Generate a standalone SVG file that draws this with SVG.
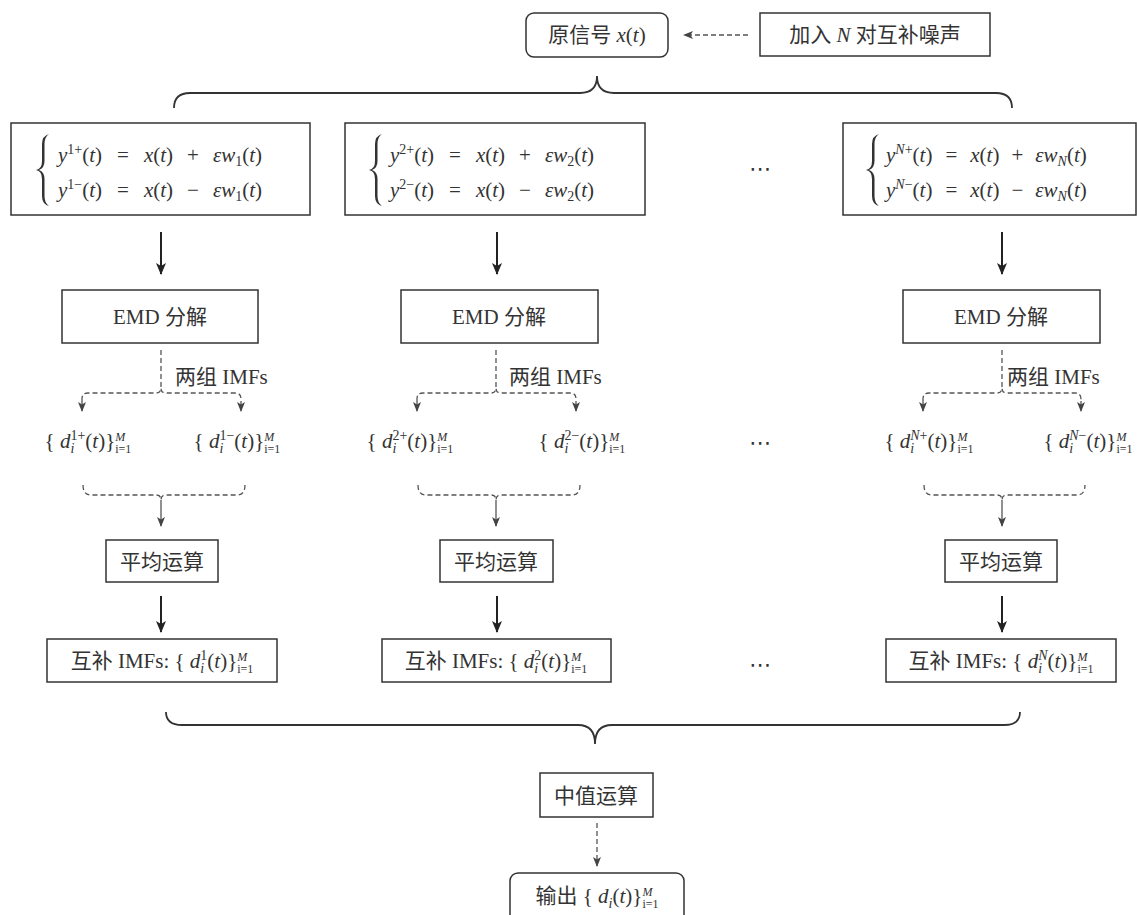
<svg xmlns="http://www.w3.org/2000/svg" width="1137" height="915" viewBox="0 0 1137 915" font-family="'Liberation Serif','Times New Roman','DejaVu Serif','Noto Sans CJK SC',serif">
<style>
text{font-family:'Liberation Serif','Times New Roman','DejaVu Serif','Noto Sans CJK SC',serif;fill:#333;font-size:21px}
.c{text-anchor:middle}
.i{font-style:italic}
.s{font-size:14px}
.ss{font-size:12px}
.box{fill:#fff;stroke:#333;stroke-width:1.5}
.sol{fill:none;stroke:#222;stroke-width:2}
.dash{fill:none;stroke:#555;stroke-width:1.3;stroke-dasharray:5 3}
.thin{fill:none;stroke:#555;stroke-width:1.3}
.brace{fill:none;stroke:#333;stroke-width:1.8}
.eb{fill:#333;stroke:none}
.dots{font-family:'DejaVu Sans',sans-serif;font-size:22px}
</style>
<defs>
<marker id="big" markerUnits="userSpaceOnUse" markerWidth="12" markerHeight="10" refX="11" refY="5" orient="auto"><path d="M0,0 L12,5 L0,10 L3,5 z" fill="#222"/></marker>
<marker id="sm" markerUnits="userSpaceOnUse" markerWidth="10" markerHeight="8" refX="9" refY="4" orient="auto"><path d="M0,0 L10,4 L0,8 L2.5,4 z" fill="#444"/></marker>
<path id="lb" d="M9,0 Q2,2 2,10 V27 Q2,35 -4,36 Q2,37 2,45 V62 Q2,70 9,72 Q4.5,69 4.5,62 V45 Q4.5,38 -1,36 Q4.5,34 4.5,27 V10 Q4.5,3 9,0 z"/>
</defs>

<g id="connectors">
<path class="dash" d="M748,35 H684" marker-end="url(#sm)"/>
<path class="brace" d="M174,108 Q174,93 190,93 H580 Q597,93 597,76 Q597,93 614,93 H996 Q1012,93 1012,108"/>
<path class="sol" d="M161,232 V274" marker-end="url(#big)"/>
<path class="sol" d="M497,232 V274" marker-end="url(#big)"/>
<path class="sol" d="M1002,232 V274" marker-end="url(#big)"/>
<path class="dash" d="M161,350 V389"/>
<path class="dash" d="M82,401 V399 Q82,393 88,393 H156 Q161,393 161,388 Q161,393 166,393 H235 Q241,393 241,399 V401"/>
<path class="thin" d="M82,401 V411" marker-end="url(#sm)"/>
<path class="thin" d="M241,401 V411" marker-end="url(#sm)"/>
<path class="dash" d="M496,350 V389"/>
<path class="dash" d="M417,401 V399 Q417,393 423,393 H491 Q496,393 496,388 Q496,393 501,393 H570 Q576,393 576,399 V401"/>
<path class="thin" d="M417,401 V411" marker-end="url(#sm)"/>
<path class="thin" d="M576,401 V411" marker-end="url(#sm)"/>
<path class="dash" d="M1002,350 V389"/>
<path class="dash" d="M923,401 V399 Q923,393 929,393 H997 Q1002,393 1002,388 Q1002,393 1007,393 H1075 Q1081,393 1081,399 V401"/>
<path class="thin" d="M923,401 V411" marker-end="url(#sm)"/>
<path class="thin" d="M1081,401 V411" marker-end="url(#sm)"/>
<path class="dash" d="M83,485 Q83,495 91,495 H156 Q161,495 161,500 Q161,495 166,495 H237 Q245,495 245,485"/>
<path class="thin" d="M161,500 V526" marker-end="url(#sm)"/>
<path class="dash" d="M418,485 Q418,495 426,495 H491 Q496,495 496,500 Q496,495 501,495 H572 Q580,495 580,485"/>
<path class="thin" d="M496,500 V526" marker-end="url(#sm)"/>
<path class="dash" d="M924,485 Q924,495 932,495 H997 Q1002,495 1002,500 Q1002,495 1007,495 H1077 Q1085,495 1085,485"/>
<path class="thin" d="M1002,500 V526" marker-end="url(#sm)"/>
<path class="sol" d="M161,596 V632" marker-end="url(#big)"/>
<path class="sol" d="M497,596 V632" marker-end="url(#big)"/>
<path class="sol" d="M1002,596 V632" marker-end="url(#big)"/>
<path class="brace" d="M166,712 Q166,725 182,725 H578 Q595,725 595,744 Q595,725 612,725 H1004 Q1020,725 1020,712"/>
<path class="dash" d="M597,823 V866" marker-end="url(#sm)"/>
</g>

<g id="n_orig">
<rect class="box" x="526" y="13" width="142" height="44" rx="8"/>
<text x="597" y="42" class="c">原信号 <tspan class="i">x</tspan>(<tspan class="i">t</tspan>)</text>
</g>
<g id="n_noise">
<rect class="box" x="760" y="13" width="230" height="43"/>
<text x="875" y="42" class="c">加入 <tspan class="i">N</tspan> 对互补噪声</text>
</g>

<g id="n_eq1">
<rect class="box" x="11" y="123" width="299" height="92"/>
<use href="#lb" class="eb" x="40" y="134"/>
<text x="58" y="162"><tspan class="i">y</tspan><tspan class="s" dy="-8">1+</tspan><tspan dy="8">(</tspan><tspan class="i">t</tspan>)<tspan dx="15">=</tspan><tspan dx="15" class="i">x</tspan>(<tspan class="i">t</tspan>)<tspan dx="14">+</tspan><tspan dx="14" class="i">εw</tspan><tspan class="s" dy="4">1</tspan><tspan dy="-4">(</tspan><tspan class="i">t</tspan>)</text>
<text x="58" y="197"><tspan class="i">y</tspan><tspan class="s" dy="-8">1−</tspan><tspan dy="8">(</tspan><tspan class="i">t</tspan>)<tspan dx="15">=</tspan><tspan dx="15" class="i">x</tspan>(<tspan class="i">t</tspan>)<tspan dx="14">−</tspan><tspan dx="14" class="i">εw</tspan><tspan class="s" dy="4">1</tspan><tspan dy="-4">(</tspan><tspan class="i">t</tspan>)</text>
</g>
<g id="n_eq2">
<rect class="box" x="345" y="123" width="300" height="92"/>
<use href="#lb" class="eb" x="373" y="134"/>
<text x="390" y="162"><tspan class="i">y</tspan><tspan class="s" dy="-8">2+</tspan><tspan dy="8">(</tspan><tspan class="i">t</tspan>)<tspan dx="15">=</tspan><tspan dx="15" class="i">x</tspan>(<tspan class="i">t</tspan>)<tspan dx="14">+</tspan><tspan dx="14" class="i">εw</tspan><tspan class="s" dy="4">2</tspan><tspan dy="-4">(</tspan><tspan class="i">t</tspan>)</text>
<text x="390" y="197"><tspan class="i">y</tspan><tspan class="s" dy="-8">2−</tspan><tspan dy="8">(</tspan><tspan class="i">t</tspan>)<tspan dx="15">=</tspan><tspan dx="15" class="i">x</tspan>(<tspan class="i">t</tspan>)<tspan dx="14">−</tspan><tspan dx="14" class="i">εw</tspan><tspan class="s" dy="4">2</tspan><tspan dy="-4">(</tspan><tspan class="i">t</tspan>)</text>
</g>
<g id="n_eqN">
<rect class="box" x="843" y="123" width="293" height="92"/>
<use href="#lb" class="eb" x="870" y="134"/>
<text x="886" y="162"><tspan class="i">y</tspan><tspan class="s" dy="-8"><tspan class="i">N</tspan>+</tspan><tspan dy="8">(</tspan><tspan class="i">t</tspan>)<tspan dx="13">=</tspan><tspan dx="13" class="i">x</tspan>(<tspan class="i">t</tspan>)<tspan dx="12">+</tspan><tspan dx="12" class="i">εw</tspan><tspan class="s i" dy="4">N</tspan><tspan dy="-4">(</tspan><tspan class="i">t</tspan>)</text>
<text x="886" y="197"><tspan class="i">y</tspan><tspan class="s" dy="-8"><tspan class="i">N</tspan>−</tspan><tspan dy="8">(</tspan><tspan class="i">t</tspan>)<tspan dx="13">=</tspan><tspan dx="13" class="i">x</tspan>(<tspan class="i">t</tspan>)<tspan dx="12">−</tspan><tspan dx="12" class="i">εw</tspan><tspan class="s i" dy="4">N</tspan><tspan dy="-4">(</tspan><tspan class="i">t</tspan>)</text>
</g>
<text class="dots c" x="760" y="176">⋯</text>

<g id="n_emd1"><rect class="box" x="62" y="290" width="196" height="53"/><text x="160" y="324" class="c">EMD 分解</text></g>
<g id="n_emd2"><rect class="box" x="401" y="290" width="197" height="53"/><text x="499" y="324" class="c">EMD 分解</text></g>
<g id="n_emdN"><rect class="box" x="903" y="290" width="197" height="53"/><text x="1001" y="324" class="c">EMD 分解</text></g>

<g id="lbl_split">
<text x="175" y="384">两组 IMFs</text>
<text x="509" y="384">两组 IMFs</text>
<text x="1007" y="384">两组 IMFs</text>
</g>

<g id="n_d1">
<text x="88" y="448" class="c">{ <tspan class="i">d</tspan><tspan class="s i" dy="5">i</tspan><tspan class="s" dx="-3.9" dy="-13">1+</tspan><tspan dy="8">(</tspan><tspan class="i">t</tspan>)}<tspan class="ss i" dy="-7">M</tspan><tspan class="ss" dx="-10" dy="12">i=1</tspan></text>
<text x="237" y="448" class="c">{ <tspan class="i">d</tspan><tspan class="s i" dy="5">i</tspan><tspan class="s" dx="-3.9" dy="-13">1−</tspan><tspan dy="8">(</tspan><tspan class="i">t</tspan>)}<tspan class="ss i" dy="-7">M</tspan><tspan class="ss" dx="-10" dy="12">i=1</tspan></text>
</g>
<g id="n_d2">
<text x="410" y="448" class="c">{ <tspan class="i">d</tspan><tspan class="s i" dy="5">i</tspan><tspan class="s" dx="-3.9" dy="-13">2+</tspan><tspan dy="8">(</tspan><tspan class="i">t</tspan>)}<tspan class="ss i" dy="-7">M</tspan><tspan class="ss" dx="-10" dy="12">i=1</tspan></text>
<text x="582" y="448" class="c">{ <tspan class="i">d</tspan><tspan class="s i" dy="5">i</tspan><tspan class="s" dx="-3.9" dy="-13">2−</tspan><tspan dy="8">(</tspan><tspan class="i">t</tspan>)}<tspan class="ss i" dy="-7">M</tspan><tspan class="ss" dx="-10" dy="12">i=1</tspan></text>
</g>
<g id="n_dN">
<text x="929" y="448" class="c">{ <tspan class="i">d</tspan><tspan class="s i" dy="5">i</tspan><tspan class="s" dx="-3.9" dy="-13"><tspan class="i">N</tspan>+</tspan><tspan dy="8">(</tspan><tspan class="i">t</tspan>)}<tspan class="ss i" dy="-7">M</tspan><tspan class="ss" dx="-10" dy="12">i=1</tspan></text>
<text x="1088" y="448" class="c">{ <tspan class="i">d</tspan><tspan class="s i" dy="5">i</tspan><tspan class="s" dx="-3.9" dy="-13"><tspan class="i">N</tspan>−</tspan><tspan dy="8">(</tspan><tspan class="i">t</tspan>)}<tspan class="ss i" dy="-7">M</tspan><tspan class="ss" dx="-10" dy="12">i=1</tspan></text>
</g>
<text class="dots c" x="760" y="450">⋯</text>

<g id="n_avg1"><rect class="box" x="106" y="540" width="112" height="42"/><text x="162" y="569" class="c">平均运算</text></g>
<g id="n_avg2"><rect class="box" x="440" y="540" width="113" height="42"/><text x="496" y="569" class="c">平均运算</text></g>
<g id="n_avgN"><rect class="box" x="945" y="540" width="112" height="42"/><text x="1001" y="569" class="c">平均运算</text></g>

<g id="n_c1"><rect class="box" x="47" y="639" width="230" height="43"/>
<text x="162" y="668" class="c">互补 IMFs: { <tspan class="i">d</tspan><tspan class="s i" dy="5">i</tspan><tspan class="s" dx="-3.9" dy="-13">1</tspan><tspan dy="8">(</tspan><tspan class="i">t</tspan>)}<tspan class="ss i" dy="-7">M</tspan><tspan class="ss" dx="-10" dy="12">i=1</tspan></text></g>
<g id="n_c2"><rect class="box" x="382" y="639" width="229" height="43"/>
<text x="496" y="668" class="c">互补 IMFs: { <tspan class="i">d</tspan><tspan class="s i" dy="5">i</tspan><tspan class="s" dx="-3.9" dy="-13">2</tspan><tspan dy="8">(</tspan><tspan class="i">t</tspan>)}<tspan class="ss i" dy="-7">M</tspan><tspan class="ss" dx="-10" dy="12">i=1</tspan></text></g>
<g id="n_cN"><rect class="box" x="886" y="639" width="230" height="43"/>
<text x="1001" y="668" class="c">互补 IMFs: { <tspan class="i">d</tspan><tspan class="s i" dy="5">i</tspan><tspan class="s i" dx="-3.9" dy="-13">N</tspan><tspan dy="8">(</tspan><tspan class="i">t</tspan>)}<tspan class="ss i" dy="-7">M</tspan><tspan class="ss" dx="-10" dy="12">i=1</tspan></text></g>
<text class="dots c" x="760" y="672">⋯</text>

<g id="n_median"><rect class="box" x="540" y="773" width="113" height="44"/><text x="596" y="803" class="c">中值运算</text></g>
<g id="n_out"><rect class="box" x="510" y="873" width="174" height="52" rx="8"/>
<text x="597" y="903" class="c">输出 { <tspan class="i">d</tspan><tspan class="s i" dy="5">i</tspan><tspan dy="-5">(</tspan><tspan class="i">t</tspan>)}<tspan class="ss i" dy="-7">M</tspan><tspan class="ss" dx="-10" dy="12">i=1</tspan></text></g>
</svg>
